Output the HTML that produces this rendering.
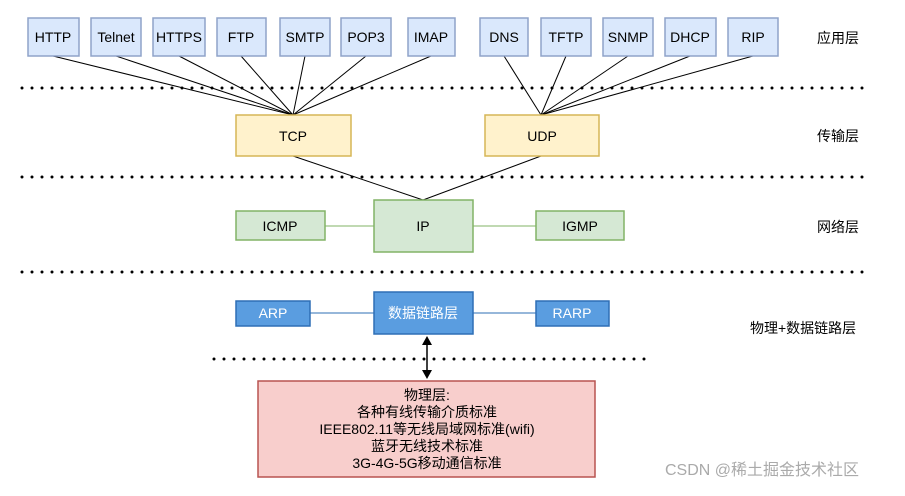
<!DOCTYPE html>
<html><head><meta charset="utf-8"><style>
body{margin:0;background:#fff;}
svg text{font-family:"Liberation Sans","Noto Sans CJK SC",sans-serif;}
</style></head><body>
<svg width="905" height="491" viewBox="0 0 905 491" xmlns="http://www.w3.org/2000/svg">
<g stroke="#000" stroke-width="1">
<line x1="53" y1="56" x2="293" y2="115"/><line x1="116" y1="56" x2="293" y2="115"/>
<line x1="179" y1="56" x2="293" y2="115"/><line x1="241" y1="56" x2="293" y2="115"/>
<line x1="305" y1="56" x2="293" y2="115"/><line x1="366" y1="56" x2="293" y2="115"/>
<line x1="431" y1="56" x2="293" y2="115"/>
<line x1="504" y1="56" x2="541" y2="115"/><line x1="566" y1="56" x2="541" y2="115"/>
<line x1="628" y1="56" x2="541" y2="115"/><line x1="690" y1="56" x2="541" y2="115"/>
<line x1="753" y1="56" x2="541" y2="115"/>
<line x1="293" y1="156" x2="423" y2="200"/><line x1="541" y1="156" x2="423" y2="200"/>
</g>
<g stroke="#000" stroke-width="3" stroke-dasharray="0 10" stroke-linecap="round">
<line x1="22" y1="88" x2="870" y2="88"/><line x1="22" y1="177" x2="870" y2="177"/>
<line x1="22" y1="272" x2="870" y2="272"/><line x1="214" y1="359" x2="645" y2="359"/>
</g>
<g fill="#dae8fc" stroke="#8fa3c9" stroke-width="1.5">
<rect x="28" y="18" width="51" height="38"/><rect x="91" y="18" width="50" height="38"/>
<rect x="153" y="18" width="52" height="38"/><rect x="217" y="18" width="49" height="38"/>
<rect x="280" y="18" width="50" height="38"/><rect x="341" y="18" width="50" height="38"/>
<rect x="408" y="18" width="47" height="38"/>
<rect x="480" y="18" width="48" height="38"/><rect x="541" y="18" width="50" height="38"/>
<rect x="603" y="18" width="50" height="38"/><rect x="665" y="18" width="51" height="38"/>
<rect x="728" y="18" width="50" height="38"/>
</g>
<g font-size="14" fill="#000" text-anchor="middle">
<text x="53" y="42">HTTP</text><text x="116" y="42">Telnet</text><text x="179" y="42">HTTPS</text>
<text x="241" y="42">FTP</text><text x="305" y="42">SMTP</text><text x="366" y="42">POP3</text>
<text x="431" y="42">IMAP</text><text x="504" y="42">DNS</text><text x="566" y="42">TFTP</text>
<text x="628" y="42">SNMP</text><text x="690" y="42">DHCP</text><text x="753" y="42">RIP</text>
</g>
<rect x="236" y="115" width="115" height="41" fill="#fff2cc" stroke="#d6b656" stroke-width="1.5"/>
<rect x="485" y="115" width="114" height="41" fill="#fff2cc" stroke="#d6b656" stroke-width="1.5"/>
<line x1="325" y1="226" x2="374" y2="226" stroke="#82b366"/>
<line x1="473" y1="226" x2="536" y2="226" stroke="#82b366"/>
<rect x="236" y="211" width="89" height="29" fill="#d5e8d4" stroke="#82b366" stroke-width="1.5"/>
<rect x="374" y="200" width="99" height="52" fill="#d5e8d4" stroke="#82b366" stroke-width="1.5"/>
<rect x="536" y="211" width="88" height="29" fill="#d5e8d4" stroke="#82b366" stroke-width="1.5"/>
<line x1="310" y1="313" x2="374" y2="313" stroke="#2e6fb5"/>
<line x1="473" y1="313" x2="536" y2="313" stroke="#2e6fb5"/>
<rect x="236" y="301" width="74" height="25" fill="#5a9de0" stroke="#2e6fb5" stroke-width="1.5"/>
<rect x="374" y="292" width="99" height="42" fill="#5a9de0" stroke="#2e6fb5" stroke-width="1.5"/>
<rect x="536" y="301" width="73" height="25" fill="#5a9de0" stroke="#2e6fb5" stroke-width="1.5"/>
<line x1="427" y1="343" x2="427" y2="372" stroke="#000" stroke-width="1.5"/>
<polygon points="427,336 422,345 432,345" fill="#000"/>
<polygon points="427,379 422,370 432,370" fill="#000"/>
<rect x="258" y="381" width="337" height="96" fill="#f8cecc" stroke="#b85450" stroke-width="1.5"/>
<g font-size="14" text-anchor="middle" fill="#000">
<text x="293" y="141">TCP</text><text x="542" y="141">UDP</text>
<text x="280" y="231">ICMP</text><text x="423" y="231">IP</text><text x="580" y="231">IGMP</text>
<text x="273" y="318" fill="#fff">ARP</text><text x="423" y="318" fill="#fff">数据链路层</text><text x="572" y="318" fill="#fff">RARP</text>
<text x="427" y="400">物理层:</text>
<text x="427" y="417">各种有线传输介质标准</text>
<text x="427" y="434">IEEE802.11等无线局域网标准(wifi)</text>
<text x="427" y="451">蓝牙无线技术标准</text>
<text x="427" y="468">3G-4G-5G移动通信标准</text>
</g>
<g font-size="14" fill="#000">
<text x="817" y="43">应用层</text><text x="817" y="141">传输层</text>
<text x="817" y="232">网络层</text><text x="750" y="333">物理+数据链路层</text>
</g>
<text x="665" y="475" font-size="16" fill="#aaa">CSDN @稀土掘金技术社区</text>
</svg>
</body></html>
